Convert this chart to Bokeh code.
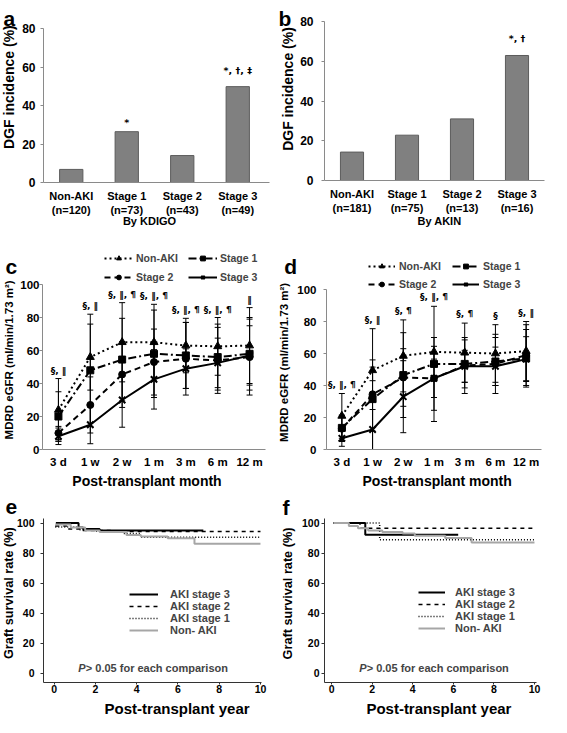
import numpy as np
from bokeh.plotting import figure
from bokeh.models import (ColumnDataSource, Range1d, Whisker, TeeHead,
                          Legend, LegendItem, Label, FixedTicker)
from bokeh.layouts import column, row
from bokeh.embed import file_html
from bokeh.resources import INLINE
from bokeh.core.properties import value

FONT = "Liberation Sans"
SYM_FONT = "DejaVu Sans"

# ---------------- data ----------------
kdigo_groups = ["Non-AKI\n(n=120)", "Stage 1\n(n=73)", "Stage 2\n(n=43)", "Stage 3\n(n=49)"]
kdigo_dgf = [6.8, 26.4, 14.0, 49.8]
kdigo_marks = ["", "*", "", "*, †, ‡"]

akin_groups = ["Non-AKI\n(n=181)", "Stage 1\n(n=75)", "Stage 2\n(n=13)", "Stage 3\n(n=16)"]
akin_dgf = [14.3, 22.8, 31.0, 62.9]
akin_marks = ["", "", "", "*, †"]

dgf_ticks = [0, 20, 40, 60, 80]
egfr_ticks = [0, 20, 40, 60, 80, 100]
surv_ticks = [0, 20, 40, 60, 80, 100]
year_ticks = [0, 2, 4, 6, 8, 10]

months = ["3 d", "1 w", "2 w", "1 m", "3 m", "6 m", "12 m"]
series_names = ["Non-AKI", "Stage 1", "Stage 2", "Stage 3"]

kdigo_egfr_nonaki = [24, 56, 65, 65, 63, 62.5, 63]
kdigo_egfr_stage1 = [20, 48, 54.5, 58, 57, 56, 58]
kdigo_egfr_stage2 = [10, 27, 45.5, 53, 55, 54, 56]
kdigo_egfr_stage3 = [8, 15, 30, 42.5, 49, 52.5, 57]
kdigo_sd_nonaki = [19, 20, 24, 23, 16.5, 17.5, 23]
kdigo_sd_stage1 = [15, 34, 25, 26.5, 20, 20, 22]
kdigo_sd_stage2 = [4, 17, 20, 20, 22, 20, 23]
kdigo_sd_stage3 = [5, 11.5, 16.5, 18, 12, 15, 18]
kdigo_sig = ["§, ‖", "§, ‖", "§, ‖, ¶", "§, ‖, ¶", "§, ‖, ¶", "§, ‖, ¶", "‖"]

akin_egfr_nonaki = [21, 49.5, 58.5, 61, 60.5, 60, 61.5]
akin_egfr_stage1 = [13.5, 31.5, 46.5, 53.5, 53.5, 55, 57]
akin_egfr_stage2 = [13, 34.5, 45, 44.5, 52.5, 53.5, 59]
akin_egfr_stage3 = [7, 12.5, 33, 44.5, 52, 52, 56.5]
akin_sd_nonaki = [14, 6.5, 22.5, 9, 18.5, 18, 18.5]
akin_sd_stage1 = [8, 20, 26.5, 36, 15, 15, 18]
akin_sd_stage2 = [8, 41, 18, 20, 17.5, 18.5, 19]
akin_sd_stage3 = [5, 12.5, 22.5, 12, 10, 12, 14]
akin_sig = ["§, ‖, ¶", "§, ‖", "§, ¶", "§, ‖, ¶", "§, ¶", "§", "§, ‖"]

km_names = ["AKI stage 3", "AKI stage 2", "AKI stage 1", "Non- AKI"]

e_s3_time = [0.08, 1.18, 1.4, 2.2, 7.23]
e_s3_surv = [100, 97, 96, 95, 95]
e_s2_time = [0.05, 0.6, 1.3, 2.8, 10]
e_s2_surv = [98, 96, 95, 94.3, 94.3]
e_s1_time = [0.05, 1.2, 2.0, 3.3, 4.17, 10]
e_s1_surv = [97.3, 95.5, 94.5, 93, 90.6, 90.6]
e_non_time = [0.05, 0.8, 1.5, 2.2, 3.5, 4.2, 5.5, 6.8, 10]
e_non_surv = [99, 97, 95, 94, 92, 91, 89.8, 86.2, 86.2]

f_s3_time = [0.1, 1.66, 6.24]
f_s3_surv = [100, 92.2, 92.2]
f_s2_time = [0.1, 1.4, 10]
f_s2_surv = [100, 96.5, 96.5]
f_s1_time = [0.1, 2.37, 10]
f_s1_surv = [100, 88.9, 88.9]
f_non_time = [0.1, 0.85, 1.3, 1.8, 2.5, 3.5, 4.1, 5.6, 6.9, 10]
f_non_surv = [100, 98, 96.5, 95, 94, 93, 91.5, 90, 87, 87]


# ---------------- helpers ----------------
def make_fig(w, h, frame, xlim, ylim, x_ext=0):
    """Whole canvas is the plot frame; the axes are pinned at the data edges so that
    letters, legends and titles around the axes are never clipped."""
    fl, fr, ft, fb = frame
    (x0, x1), (y0, y1) = xlim, ylim
    sx = (w - fl - fr) / (x1 - x0)
    sy = (h - ft - fb) / (y1 - y0)
    xr = Range1d(x0 - fl / sx, x1 + fr / sx)
    yr = Range1d(y0 - fb / sy, y1 + ft / sy)
    p = figure(width=w, height=h, x_range=xr, y_range=yr, title=None,
               output_backend="svg", toolbar_location=None,
               min_border_left=0, min_border_right=0, min_border_top=0, min_border_bottom=0)
    p.outline_line_color = None
    p.xgrid.grid_line_color = None
    p.ygrid.grid_line_color = None
    p.xaxis[0].fixed_location = y0
    p.yaxis[0].fixed_location = x0
    p.xaxis[0].bounds = (x0, x1 + x_ext / sx)
    p.yaxis[0].bounds = (y0, y1)

    def to_data(px, py):
        return xr.start + px / sx, yr.end - py / sy
    return p, to_data


def style_axis(ax, color, label_size, tick_out, standoff):
    ax.axis_line_color = color
    ax.major_tick_line_color = color
    ax.minor_tick_line_color = None
    ax.major_tick_in = 0
    ax.major_tick_out = tick_out
    ax.major_label_text_font = FONT
    ax.major_label_text_font_style = "bold"
    ax.major_label_text_font_size = label_size
    ax.major_label_text_color = "black"
    ax.major_label_standoff = standoff


def add_text(p, to_data, text, px, py, size, angle=0.0, align="center",
             baseline="middle", style="bold"):
    x, y = to_data(px, py)
    p.add_layout(Label(x=x, y=y, text=text, angle=angle, text_font=FONT,
                       text_font_style=style, text_font_size=size, text_align=align,
                       text_baseline=baseline, text_color="black"))


def category_axis(ax, labels):
    pos = list(range(1, len(labels) + 1))
    ax.ticker = FixedTicker(ticks=pos)
    ax.major_label_overrides = {i: lab for i, lab in zip(pos, labels)}


def bar_panel(groups, vals, marks, w, h, frame, ystand, xtitle, letter, lpos,
              ytpos, xtpos, x_ext):
    n = len(groups)
    p, to_data = make_fig(w, h, frame, (0.5, n + 0.5), (0, 80), x_ext)
    xpos = np.arange(1, n + 1)
    p.vbar(x=xpos, top=vals, width=0.42, fill_color="#808080",
           line_color="#5c5c5c", line_width=1)
    offs = [-4 if m == "*" else -11 for m in marks]
    p.text(x=xpos, y=vals, text=marks, text_align="center", text_baseline="bottom",
           y_offset=offs, text_font=value(SYM_FONT), text_font_size="9.5px",
           text_font_style="bold", text_color="black")
    style_axis(p.yaxis[0], "#8a8a8a", "12px", 3, ystand)
    p.yaxis[0].ticker = FixedTicker(ticks=dgf_ticks)
    style_axis(p.xaxis[0], "#8a8a8a", "11px", 0, 7)
    category_axis(p.xaxis[0], groups)
    add_text(p, to_data, "DGF incidence (%)", *ytpos, "14px", angle=np.pi / 2)
    add_text(p, to_data, xtitle, *xtpos, "11px")
    add_text(p, to_data, letter, *lpos, "21px", align="left", baseline="alphabetic")
    return p


def egfr_panel(series, sds, sig, w, h, frame, ystand, letter, lpos, ytpos, xtpos,
               leg_x, leg_y1, leg_y2, glyph_w, stand, lab_w, spacing, sig_off):
    n = len(months)
    p, to_data = make_fig(w, h, frame, (0.5, n + 0.5), (0, 100))
    xpos = np.arange(1, n + 1)
    styles = [("2 3", "triangle", 8), ("8 3 2 3", "square", 7),
              ("6 4", "circle", 7), ("solid", "x", 9)]
    his = []
    rends = []
    for vals, sd, (dash, marker, size) in zip(series, sds, styles):
        v = np.array(vals, dtype=float)
        s = np.array(sd, dtype=float)
        hi = v + s
        lo = np.maximum(v - s, 0)
        his.append(hi)
        src = ColumnDataSource(dict(x=xpos, y=v, lo=lo, hi=hi))
        p.add_layout(Whisker(source=src, base="x", lower="lo", upper="hi",
                             line_color="black", line_width=1,
                             upper_head=TeeHead(size=6, line_color="black", line_width=1),
                             lower_head=TeeHead(size=6, line_color="black", line_width=1)))
        ln = p.line("x", "y", source=src, line_color="black", line_width=2, line_dash=dash)
        mk = p.scatter("x", "y", source=src, marker=marker, size=size,
                       fill_color="black", line_color="black",
                       line_width=2 if marker == "x" else 1)
        rends.append((ln, mk))
    top_vals = np.max(np.vstack(his), axis=0)
    p.text(x=xpos, y=top_vals, text=sig, text_align="center", text_baseline="bottom",
           y_offset=sig_off, text_font=value(SYM_FONT), text_font_size="9px",
           text_font_style="bold", text_color="black")

    def mk_leg(idx, y):
        items = [LegendItem(label=series_names[i], renderers=list(rends[i])) for i in idx]
        leg = Legend(items=items, orientation="horizontal", location=(leg_x, y),
                     border_line_color=None, background_fill_alpha=0,
                     padding=0, margin=0, spacing=spacing,
                     glyph_width=glyph_w, glyph_height=12, label_height=12,
                     label_width=lab_w, label_standoff=stand,
                     label_text_font=FONT, label_text_font_style="bold",
                     label_text_font_size="10.5px")
        p.add_layout(leg)

    mk_leg([0, 1], leg_y1)
    mk_leg([2, 3], leg_y2)

    style_axis(p.yaxis[0], "#8a8a8a", "11.5px", 3, ystand)
    p.yaxis[0].ticker = FixedTicker(ticks=egfr_ticks)
    style_axis(p.xaxis[0], "#8a8a8a", "11.5px", 0, 6)
    category_axis(p.xaxis[0], months)
    add_text(p, to_data, "MDRD eGFR (ml/min/1.73 m²)", *ytpos, "11.5px", angle=np.pi / 2)
    add_text(p, to_data, "Post-transplant month", *xtpos, "14px")
    add_text(p, to_data, letter, *lpos, "21px", align="left", baseline="alphabetic")
    return p


def km_panel(curves, w, h, frame, xr, ystand, letter, lpos, ytpos, xtpos,
             leg_loc, glyph_w, stand, p_pos):
    p, to_data = make_fig(w, h, frame, xr, (-6, 103))
    styles = [dict(line_color="black", line_width=2),
              dict(line_color="black", line_width=1.5, line_dash="4 4"),
              dict(line_color="black", line_width=1.5, line_dash="1 2"),
              dict(line_color="#a6a6a6", line_width=2)]
    items = []
    for (t, s), name, st in zip(curves, km_names, styles):
        r = p.step(x=t, y=s, mode="after", **st)
        items.append(LegendItem(label=name, renderers=[r]))
    leg = Legend(items=items, location=leg_loc, border_line_color=None,
                 background_fill_alpha=0, padding=0, margin=0, spacing=0,
                 glyph_width=glyph_w, glyph_height=12, label_height=12,
                 label_standoff=stand, label_text_font=FONT, label_text_font_style="bold",
                 label_text_font_size="11px")
    p.add_layout(leg)
    px, py = to_data(*p_pos)
    p.add_layout(Label(x=px, y=py, text="P",
                       text_font=FONT, text_font_style="bold italic", text_font_size="11px",
                       text_align="left", text_baseline="middle"))
    p.add_layout(Label(x=px, y=py, x_offset=7.5, text=" > 0.05 for each comparison",
                       text_font=FONT, text_font_style="bold", text_font_size="11px",
                       text_align="left", text_baseline="middle"))
    style_axis(p.yaxis[0], "#333333", "10.5px", 3, ystand)
    p.yaxis[0].ticker = FixedTicker(ticks=surv_ticks)
    style_axis(p.xaxis[0], "#333333", "10.5px", 2, 0)
    p.xaxis[0].ticker = FixedTicker(ticks=year_ticks)
    add_text(p, to_data, "Graft survival rate (%)", *ytpos, "12.7px", angle=np.pi / 2)
    add_text(p, to_data, "Post-transplant year", *xtpos, "15px")
    add_text(p, to_data, letter, *lpos, "21px", align="left", baseline="alphabetic")
    return p


# ---------------- panels ----------------
pa = bar_panel(kdigo_groups, kdigo_dgf, kdigo_marks, 275, 235, (43, 10, 28, 53), 5,
               "By KDIGO", "a", (2.9, 17.6), (8.7, 86.6), (149, 220.6), 4)
pb = bar_panel(akin_groups, akin_dgf, akin_marks, 276, 235, (49, 7, 21, 55), 8,
               "By AKIN", "b", (3, 17.6), (12.6, 88.5), (164, 220), 0)

pc = egfr_panel([kdigo_egfr_nonaki, kdigo_egfr_stage1, kdigo_egfr_stage2, kdigo_egfr_stage3],
                [kdigo_sd_nonaki, kdigo_sd_stage1, kdigo_sd_stage2, kdigo_sd_stage3],
                kdigo_sig, 275, 254, (42, 10, 49, 40), 0, "c", (4.9, 30.7),
                (8, 124.4), (146.5, 245.2),
                104, 224.8, 206.2, 29, 3, 43, 9, -3)
pd_ = egfr_panel([akin_egfr_nonaki, akin_egfr_stage1, akin_egfr_stage2, akin_egfr_stage3],
                 [akin_sd_nonaki, akin_sd_stage1, akin_sd_stage2, akin_sd_stage3],
                 akin_sig, 276, 254, (51, 10, 54, 40), 7, "d", (8.8, 30.7),
                 (8.5, 126.9), (161.6, 245.2),
                 93, 217, 199.3, 27, 4, 43, 10, -4)

pe = km_panel([(e_s3_time, e_s3_surv), (e_s2_time, e_s2_surv), (e_s1_time, e_s1_surv),
               (e_non_time, e_non_surv)], 275, 228, (43, 14, 29, 35), (-0.52, 10.05), 6,
              "e", (4.9, 17.9), (8.7, 103.6), (176.6, 219), (129, 81), 29, 12, (77.8, 178.8))
pf = km_panel([(f_s3_time, f_s3_surv), (f_s2_time, f_s2_surv), (f_s1_time, f_s1_surv),
               (f_non_time, f_non_surv)], 276, 228, (49, 15, 29, 35), (-0.35, 10.1), 2,
              "f", (6.9, 17.9), (12.2, 104), (163.4, 219), (143, 83), 27, 10, (83.7, 178.8))

layout = column(row(pa, pb), row(pc, pd_), row(pe, pf))
open("out.html", "w").write(file_html(layout, INLINE))
